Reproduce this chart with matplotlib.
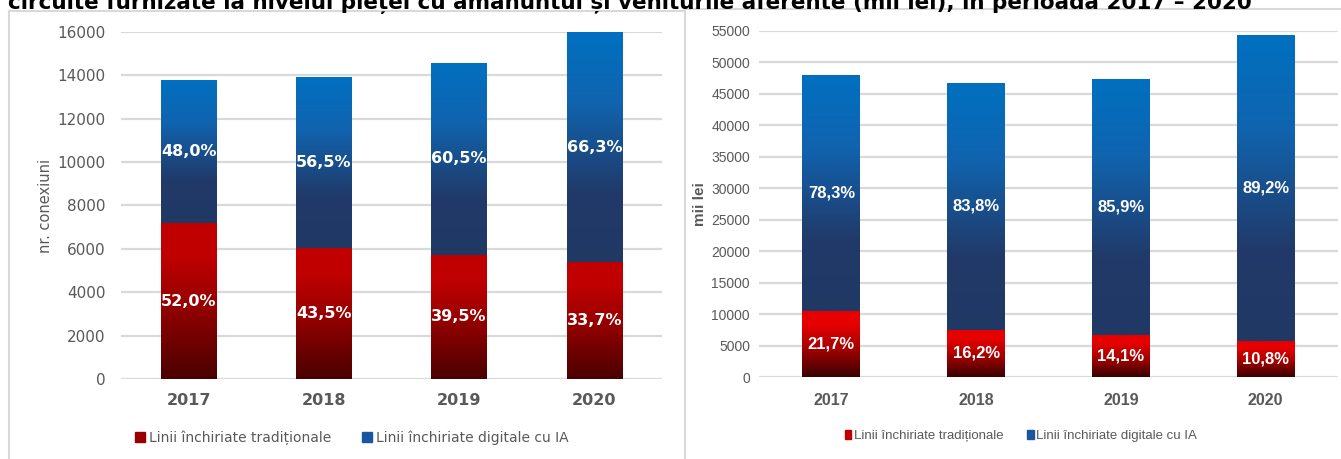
import numpy as np
import matplotlib.pyplot as plt
from matplotlib.colors import LinearSegmentedColormap
from matplotlib.patches import Patch
from matplotlib.lines import Line2D

years = ['2017', '2018', '2019', '2020']
# nr. conexiuni
conn_trad = [7180, 6050, 5740, 5400]
conn_dig = [6610, 7860, 8820, 10590]
conn_pct_trad = ['52,0%', '43,5%', '39,5%', '33,7%']
conn_pct_dig = ['48,0%', '56,5%', '60,5%', '66,3%']
# mii lei
rev_trad = [10450, 7550, 6690, 5820]
rev_dig = [37490, 39080, 40620, 48510]
rev_pct_trad = ['21,7%', '16,2%', '14,1%', '10,8%']
rev_pct_dig = ['78,3%', '83,8%', '85,9%', '89,2%']

leg_labels = ['Linii închiriate tradiționale', 'Linii închiriate digitale cu IA']
title = ('circuite furnizate la nivelul pieței cu amănuntul și veniturile '
         'aferente (mil lei), în perioada 2017 – 2020')

W, H = 1341, 459
def px(x):
    return x / W
def py(y):
    return 1 - y / H

red_l = LinearSegmentedColormap.from_list('rl', [(0, '#4a0000'), (0.5, '#9a0000'), (0.8, '#c00000'), (1, '#c00000')])
red_r = LinearSegmentedColormap.from_list('rr', [(0, '#3a0000'), (0.45, '#a80000'), (0.8, '#e60000'), (1, '#e60000')])
blue = LinearSegmentedColormap.from_list('bl', [(0, '#1f3864'), (0.3, '#213a69'), (0.7, '#1064b0'), (1, '#0070c0')])

narrow = ['Liberation Sans', 'DejaVu Sans']
grid_c = '#d9d9d9'
tick_c = '#595959'


def grad_fill(ax, bars, cmap):
    g = np.linspace(0, 1, 256).reshape(-1, 1)
    for b in bars:
        x0, y0 = b.get_x(), b.get_y()
        im = ax.imshow(g, extent=(x0, x0 + b.get_width(), y0, y0 + b.get_height()),
                       origin='lower', cmap=cmap, aspect='auto', zorder=2)
        im.set_clip_path(b)
        b.set_facecolor('none')


def panel(ax, trad, dig, pt, pd, ymax, step, red, fam, bw, lblsize, ticksize, xsize):
    x = np.arange(len(years))
    b1 = ax.bar(x, trad, bw, color='#c00000', zorder=2, linewidth=0)
    b2 = ax.bar(x, dig, bw, bottom=trad, color='#0070c0', zorder=2, linewidth=0)
    grad_fill(ax, b1, red)
    grad_fill(ax, b2, blue)
    for i in x:
        ax.text(i, trad[i] / 2, pt[i], ha='center', va='center', color='white',
                fontsize=lblsize, fontweight='bold', family=fam, zorder=4)
        ax.text(i, trad[i] + dig[i] / 2, pd[i], ha='center', va='center', color='white',
                fontsize=lblsize, fontweight='bold', family=fam, zorder=4)
    ax.set_xlim(-0.5, len(years) - 0.5)
    ax.set_ylim(0, ymax)
    ax.set_yticks(np.arange(0, ymax + 1, step))
    ax.set_xticks(x)
    ax.set_xticklabels(years, fontweight='bold', fontsize=xsize, color=tick_c, family=fam)
    for t in ax.get_yticklabels():
        t.set_fontsize(ticksize)
        t.set_color(tick_c)
        t.set_family(fam)
    ax.yaxis.grid(True, color=grid_c, linewidth=1.6, zorder=0)
    ax.set_axisbelow(True)
    for s in ax.spines.values():
        s.set_visible(False)
    ax.tick_params(length=0)


fig = plt.figure(figsize=(W / 100, H / 100), dpi=100)

ax1 = fig.add_axes([px(121), py(379), px(662) - px(121), (379 - 32) / H])
panel(ax1, conn_trad, conn_dig, conn_pct_trad, conn_pct_dig, 16000, 2000, red_l,
      'DejaVu Sans', 0.41, 11.5, 11, 11.5)
ax1.tick_params(axis='y', pad=11)
ax1.tick_params(axis='x', pad=10)
ax1.set_ylabel('nr. conexiuni', fontsize=10.5, color=tick_c, labelpad=3)

ax2 = fig.add_axes([px(759), py(377.3), px(1338) - px(759), (377.3 - 30.5) / H])
panel(ax2, rev_trad, rev_dig, rev_pct_trad, rev_pct_dig, 55000, 5000, red_r,
      narrow, 0.40, 12, 10, 11.5)
ax2.tick_params(axis='y', pad=6.5)
ax2.tick_params(axis='x', pad=11)
ax2.set_ylabel('mii lei', fontsize=11, fontweight='bold', color=tick_c, family=narrow, labelpad=3)

h1 = [Patch(color='#980000'), Patch(color='#1a55a0')]
fig.legend(h1, leg_labels, loc='center', bbox_to_anchor=(px(352), py(438)), ncol=2,
           frameon=False, handlelength=0.7, handleheight=0.7, handletextpad=0.3,
           columnspacing=2.2, prop={'size': 10, 'family': 'DejaVu Sans'}, labelcolor=tick_c)
h2 = [Patch(color='#c00000'), Patch(color='#1a55a0')]
fig.legend(h2, leg_labels, loc='center', bbox_to_anchor=(px(1021), py(436)), ncol=2,
           frameon=False, handlelength=0.5, handleheight=0.7, handletextpad=0.2,
           columnspacing=1.8, prop={'size': 9.5, 'family': narrow}, labelcolor=tick_c)

# panel frames
for (x0, y0, x1, y1) in [(9, 11, 685, 11), (9, 11, 9, 459), (685, 9, 1341, 9), (685, 9, 685, 459)]:
    fig.add_artist(Line2D([px(x0), px(x1)], [py(y0), py(y1)], transform=fig.transFigure,
                          color=grid_c, linewidth=1.5))

fig.text(px(8), py(8.5), title, fontsize=15.5, fontweight='bold', va='baseline', ha='left')

fig.savefig('out.png', dpi=100)
